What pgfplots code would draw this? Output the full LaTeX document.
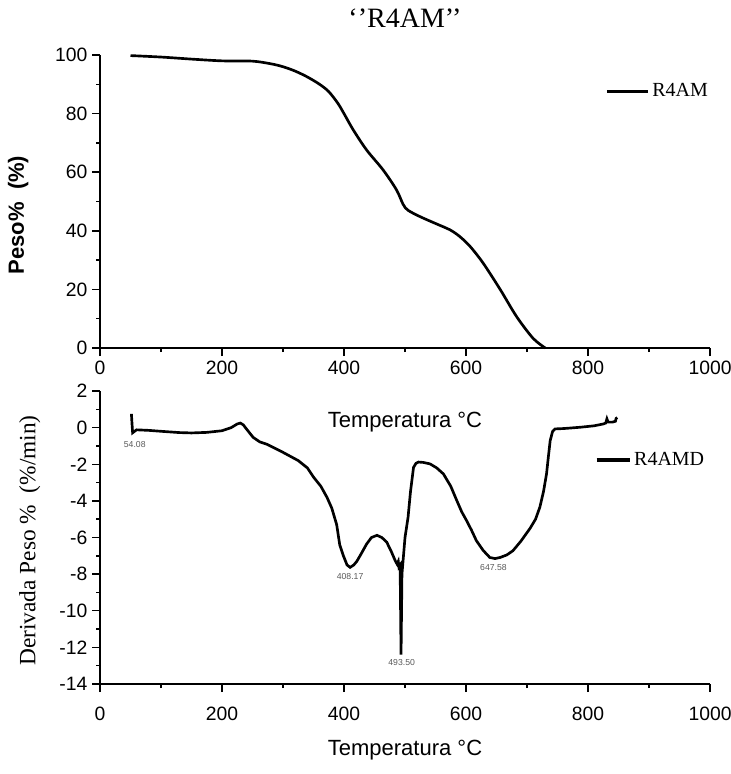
\documentclass[border=0pt]{standalone}
\usepackage{pgfplots}
\pgfplotsset{compat=1.18}
\usepackage{fontspec}
\setmainfont{Liberation Serif}
\setsansfont{Liberation Sans}

\pgfplotsset{
  tgastyle/.style={
    scale only axis, width=457.5pt, height=219.75pt,
    anchor=south west,
    axis x line*=bottom, axis y line*=left,
    axis line style={line width=1.1pt},
    tick align=outside, major tick length=6pt, minor tick length=3pt,
    every tick/.style={black, line width=1.1pt},
    xmin=0, xmax=1000, xtick={0,200,...,1000}, minor x tick num=1,
    tick label style={font=\sffamily\fontsize{14.5}{16}\selectfont},
    /pgf/number format/assume math mode=true,
    /pgf/number format/1000 sep={},
    clip=false,
    legend style={draw=none, fill=none, inner sep=0pt, anchor=west,
      font=\rmfamily\fontsize{15}{17}\selectfont},
  }
}

\begin{document}
\begin{tikzpicture}
\path[use as bounding box] (0,0) rectangle (548.25pt,-580.5pt);

% ---------- top: TGA ----------
\begin{axis}[tgastyle,
  at={(75pt,-261pt)},
  ymin=0, ymax=100, ytick={0,20,...,100}, minor y tick num=1,
  xlabel={Temperatura °C},
  xlabel style={font=\sffamily\fontsize{16.5}{18}\selectfont, at={(axis description cs:0.5,-0.2526)}, anchor=center},
  ylabel={\textbf{Peso\%\ \ (\%)}},
  ylabel style={font=\sffamily\fontsize{16.5}{18}\selectfont, at={(axis description cs:-0.134,0.454)}, anchor=center},
  legend style={at={(axis description cs:0.828,0.877)}},
  legend image code/.code={\draw[line width=2.2pt] (0pt,0pt) -- (31pt,0pt);},
]
\addplot[black, line width=2pt, smooth] coordinates {
(50,99.8) (100,99.3) (150,98.6) (200,98.0) (250,97.9) (280,97.0) (300,96.0)
(320,94.5) (340,92.5) (360,90.0) (375,87.5) (390,83.5) (400,80.0) (415,74.5)
(437,67.6) (464,60.8) (486,54.0) (497,49.0) (505,47.0) (525,44.8) (550,42.5)
(574,40.3) (590,38.0) (607,34.6) (628,29.0) (656,20.0) (683,10.7) (710,3.3) (730,0)
};
\addlegendentry{R4AM}
\node[font=\rmfamily\fontsize{21}{23}\selectfont] at (axis description cs:0.5,1.126) {‘’R4AM’’};
\end{axis}

% ---------- bottom: DTG ----------
\begin{axis}[tgastyle,
  at={(75pt,-513pt)},
  ymin=-14, ymax=2, ytick={-14,-12,...,2}, minor y tick num=1,
  xticklabel style={yshift=-8pt},
  xlabel={Temperatura °C},
  xlabel style={font=\sffamily\fontsize{16.5}{18}\selectfont, at={(axis description cs:0.5,-0.2253)}, anchor=center},
  ylabel={Derivada Peso \%\ \ (\%/min)},
  ylabel style={font=\rmfamily\fontsize{17.5}{19}\selectfont, at={(axis description cs:-0.115,0.49)}, anchor=center},
  legend style={at={(axis description cs:0.811,0.7645)}},
  legend image code/.code={\draw[line width=2.4pt] (0pt,0pt) -- (25pt,0pt);},
]
\addplot[black, line width=2pt] coordinates {
(51.5,0.75) (52.5,0.2) (53.5,-0.28) (60,-0.12) (80,-0.15) (100,-0.2) (130,-0.27)
(150,-0.29) (175,-0.26) (200,-0.17) (215,0.0) (225,0.2) (230,0.25) (235,0.15)
(240,-0.07) (251,-0.53) (262,-0.78) (273,-0.9) (300,-1.35) (325,-1.8) (340,-2.2)
(350,-2.7) (362,-3.2) (372,-3.8) (380,-4.4) (388,-5.3) (393,-6.4) (399,-7.0)
(405,-7.5) (410,-7.63) (416,-7.5) (421,-7.3) (428,-6.9) (437,-6.36) (445,-6.0)
(454,-5.88) (462,-6.0) (470,-6.25) (478,-6.8) (484,-7.27) (487,-7.45) (489,-7.3)
(490,-7.6) (492,-7.5) (493.5,-12.4) (495,-8.0) (497,-7.2) (500,-6.0) (505,-4.9)
(509,-3.5) (514,-2.17) (518,-1.95) (522,-1.88) (530,-1.9) (541,-1.98) (552,-2.2)
(563,-2.53) (575,-3.2) (585,-3.99) (593,-4.6) (601,-5.08) (609,-5.6) (617,-6.17)
(628,-6.7) (639,-7.09) (647.6,-7.15) (656,-7.09) (667,-6.95) (677,-6.72) (690,-6.2)
(705,-5.5) (714,-5.0) (721,-4.35) (727,-3.5) (732,-2.53) (735,-1.6) (738,-0.71)
(742,-0.2) (746,-0.07) (760,-0.05) (787,0.02) (810,0.1) (825,0.2) (829,0.25)
(831,0.48) (833,0.3) (840,0.3) (845,0.35) (846,0.5) (848,0.55)
};
\addlegendentry{R4AMD}
\begin{scope}[every node/.style={font=\sffamily\fontsize{6.5}{7}\selectfont, text=black!65}]
\node at (axis cs:57,-0.93) {54.08};
\node at (axis cs:410,-8.13) {408.17};
\node at (axis cs:494.5,-12.82) {493.50};
\node at (axis cs:645,-7.63) {647.58};
\end{scope}
\end{axis}
\end{tikzpicture}
\end{document}
